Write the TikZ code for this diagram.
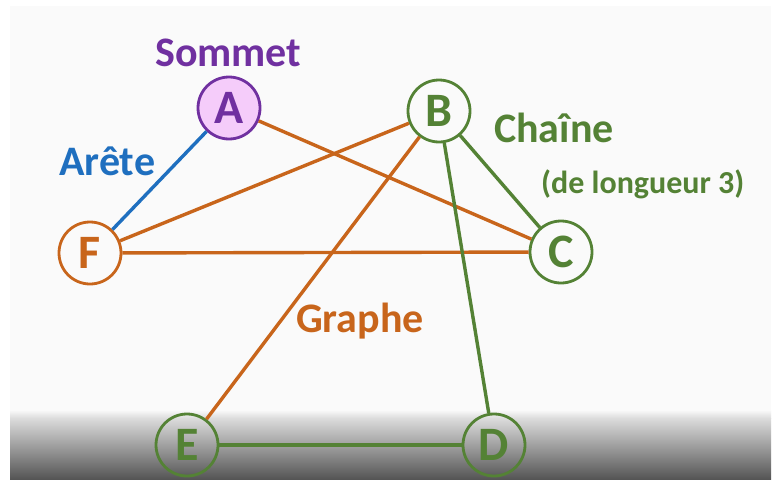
\documentclass[tikz,border=0pt]{standalone}
\usepackage{fontspec}
\setmainfont{Carlito}
\definecolor{gorange}{HTML}{C8651B}
\definecolor{ggreen}{HTML}{548235}
\definecolor{gpurple}{HTML}{7030A0}
\definecolor{gblue}{HTML}{1F6FBF}
\definecolor{gpink}{HTML}{F5CCFA}
\definecolor{slide}{HTML}{FAFAFA}
\definecolor{shadelight}{HTML}{DCDCDC}
\definecolor{shadedark}{HTML}{555555}
\begin{document}
\begin{tikzpicture}[x=1pt,y=-1pt,
  vertex/.style={circle, draw, line width=2.8pt, minimum size=62pt, inner sep=0pt,
                 font=\fontsize{48}{48}\selectfont\bfseries},
  edge/.style={line width=3.4pt},
  lbl/.style={anchor=base west, inner sep=0pt, font=\fontsize{42}{42}\selectfont\bfseries}]

% page and slide background
\useasboundingbox (0,0) rectangle (778,479);
\fill[white] (0,0) rectangle (778,479);
\fill[slide] (10,6) rectangle (771,479);
\shade[top color=slide, bottom color=shadelight] (10,410) rectangle (771,418);
\shade[top color=shadelight, bottom color=shadedark] (10,418) rectangle (771,479);

% vertices
\node[vertex, draw=gpurple, fill=gpink, text=gpurple] (A) at (229,108) {A};
\node[vertex, draw=ggreen, text=ggreen] (B) at (439,111) {B};
\node[vertex, draw=ggreen, text=ggreen] (C) at (561,252) {C};
\node[vertex, draw=ggreen, text=ggreen] (D) at (494,445) {D};
\node[vertex, draw=ggreen, text=ggreen] (E) at (187,445) {E};
\node[vertex, draw=gorange, text=gorange] (F) at (90,253) {F};

% edges
\draw[edge, gblue] (A) -- (F);
\draw[edge, gorange] (A) -- (C);
\draw[edge, gorange] (B) -- (F);
\draw[edge, gorange] (F) -- (C);
\draw[edge, gorange] (B) -- (E);
\draw[edge, ggreen] (B) -- (C);
\draw[edge, ggreen] (B) -- (D);
\draw[edge, ggreen] (E) -- (D);

% labels
\node[lbl, text=gpurple] (lsommet) at (155,66) {Sommet};
\node[lbl, text=gblue] (larete) at (59,175) {Arête};
\node[lbl, text=ggreen] (lchaine) at (494,142) {Chaîne};
\node[lbl, text=ggreen, font=\fontsize{32}{32}\selectfont\bfseries] (llong) at (541,193) {(de longueur 3)};
\node[lbl, text=gorange] (lgraphe) at (296,332) {Graphe};
\end{tikzpicture}
\end{document}
